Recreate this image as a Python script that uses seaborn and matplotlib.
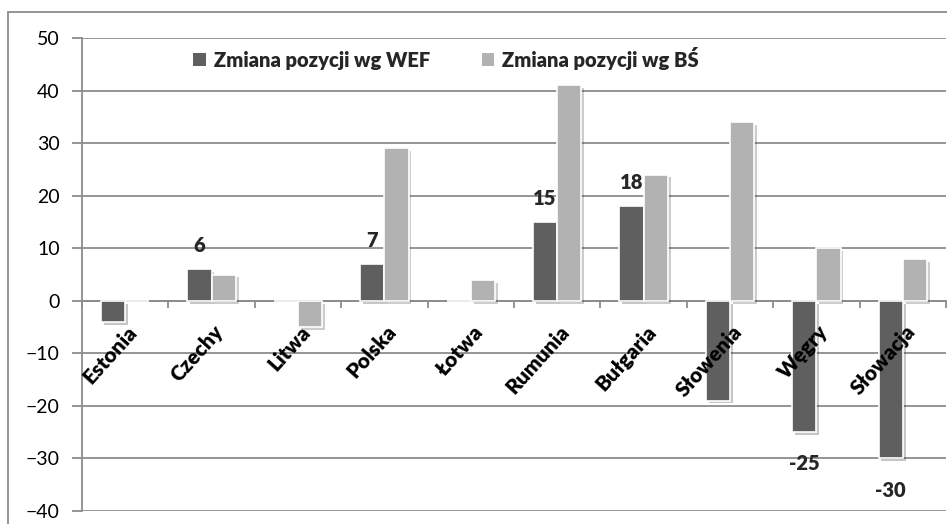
import matplotlib
matplotlib.use('Agg')
import matplotlib.pyplot as plt
import matplotlib.patheffects as pe
from matplotlib.patches import Rectangle
import numpy as np
import pandas as pd
import seaborn as sns

kraje = ['Estonia', 'Czechy', 'Litwa', 'Polska', 'Łotwa', 'Rumunia', 'Bułgaria', 'Słowenia', 'Węgry', 'Słowacja']
zmiana_wef = [-4, 6, 0, 7, 0, 15, 18, -19, -25, -30]
zmiana_bs = [0, 5, -5, 29, 4, 41, 24, 34, 10, 8]
etykiety_wef = ['', '6', '', '7', '', '15', '18', '', '-25', '-30']
serie = ['Zmiana pozycji wg WEF', 'Zmiana pozycji wg BŚ']
kolory = ['#5f5f5f', '#b2b2b2']

df = pd.DataFrame({
    'kraj': kraje * 2,
    'wartosc': zmiana_wef + zmiana_bs,
    'seria': [serie[0]] * len(kraje) + [serie[1]] * len(kraje),
})

sns.set_theme(style='white')
plt.rcParams['font.family'] = ['Lato', 'DejaVu Sans']
szary = '#8c8c8c'

fig = plt.figure(figsize=(9.47, 5.24), dpi=100)
ax = fig.add_axes([82 / 947, 13 / 524, 864 / 947, 473 / 524])

sns.barplot(data=df, x='kraj', y='wartosc', hue='seria', hue_order=serie,
            palette=kolory, saturation=1, width=0.56, edgecolor='white',
            linewidth=1.2, ax=ax, zorder=3)

# cień pod słupkami jak w Excelu
for p in ax.patches:
    p.set_path_effects([pe.SimplePatchShadow(offset=(2, -2), alpha=0.25), pe.Normal()])

ax.set_ylim(-40, 50)
ax.set_yticks(range(-40, 51, 10))
ax.set_xlim(-0.5, len(kraje) - 0.5)
ax.yaxis.grid(True, color=szary, linewidth=1.3)
ax.set_axisbelow(True)
ax.set_xlabel('')
ax.set_ylabel('')

for s in ['top', 'right']:
    ax.spines[s].set_visible(False)
ax.spines['left'].set_color(szary)
ax.spines['left'].set_linewidth(1.3)
ax.spines['bottom'].set_position(('data', 0))
ax.spines['bottom'].set_color(szary)
ax.spines['bottom'].set_linewidth(1.3)

ax.set_xticks(np.arange(-0.5, len(kraje), 1))
ax.set_xticklabels([])
ax.tick_params(axis='x', direction='out', length=5, width=1.3, color=szary, bottom=True)
ax.tick_params(axis='y', direction='out', length=7, width=1.3, color=szary, left=True,
               pad=9, labelsize=14, labelcolor='black')

for i, k in enumerate(kraje):
    ax.text(i + 0.02, -4.0, k, rotation=48, rotation_mode='anchor', ha='right', va='top',
            fontsize=15, fontweight='heavy', color='black', zorder=5)

# etykiety danych tylko dla wybranych słupków WEF
for i, (v, t) in enumerate(zip(zmiana_wef, etykiety_wef)):
    if not t:
        continue
    x = i - 0.56 / 4
    if v > 0:
        ax.annotate(t, (x, v), xytext=(0, 10), textcoords='offset points', ha='center',
                    va='bottom', fontsize=14.5, fontweight='heavy')
    else:
        ax.annotate(t, (x, v), xytext=(0, -16), textcoords='offset points', ha='center',
                    va='top', fontsize=14.5, fontweight='heavy')

leg = ax.legend(loc='upper left', bbox_to_anchor=(0.108, 1.02), ncol=2, frameon=False,
                handlelength=0.6, handleheight=0.6, handletextpad=0.4, columnspacing=2.6,
                prop={'weight': 'heavy', 'size': 14.5})
for h in leg.legend_handles:
    h.set_path_effects([])
    h.set_edgecolor('none')

fig.add_artist(Rectangle((8 / 947, -0.1), 1.0, 1.1 - 12 / 524, transform=fig.transFigure,
                         fill=False, edgecolor=szary, linewidth=1.3))

fig.savefig('out.png', dpi=100)
